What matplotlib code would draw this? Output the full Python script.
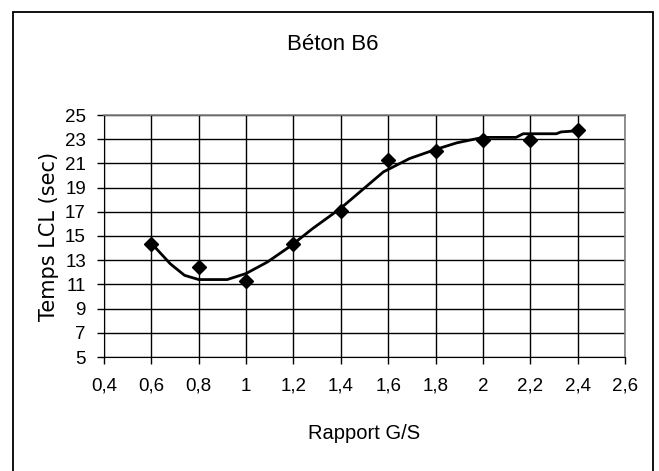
import matplotlib.pyplot as plt
from matplotlib.patches import Rectangle

plt.rcParams['font.family'] = ['Liberation Sans Narrow', 'Liberation Sans', 'DejaVu Sans']

# mesures (losanges)
g_s = [0.6, 0.8, 1.0, 1.2, 1.4, 1.6, 1.8, 2.0, 2.2, 2.4]
temps = [14.3, 12.4, 11.3, 14.3, 17.1, 21.3, 22.0, 22.9, 22.9, 23.8]

# courbe de tendance
curve_x = [0.6, 0.68, 0.74, 0.80, 0.92, 1.0, 1.09, 1.19, 1.28, 1.40, 1.49,
           1.58, 1.69, 1.80, 1.89, 2.0, 2.14, 2.17, 2.31, 2.33, 2.4]
curve_y = [14.4, 12.7, 11.75, 11.4, 11.4, 11.9, 12.85, 14.2, 15.6, 17.3, 18.8,
           20.3, 21.4, 22.15, 22.7, 23.15, 23.15, 23.45, 23.45, 23.6, 23.7]

xticks = [0.4, 0.6, 0.8, 1.0, 1.2, 1.4, 1.6, 1.8, 2.0, 2.2, 2.4, 2.6]
xlabels = ['0,4', '0,6', '0,8', '1', '1,2', '1,4', '1,6', '1,8', '2', '2,2', '2,4', '2,6']
yticks = list(range(5, 26, 2))

fig = plt.figure(figsize=(6.59, 4.71), dpi=100)
ax = fig.add_axes([104/659, 1 - 357/471, (625 - 104)/659, (357 - 115)/471])

ax.plot(curve_x, curve_y, color='black', lw=2.0, zorder=3)
ax.plot(g_s, temps, 'D', color='black', ms=7, zorder=4)

ax.set_xlim(0.4, 2.6)
ax.set_ylim(5, 25)
ax.set_xticks(xticks)
ax.set_xticklabels(xlabels)
ax.set_yticks(yticks)
ax.grid(True, color='black', lw=1.0)
ax.set_axisbelow(True)
ax.tick_params(direction='out', length=5, width=1, labelsize=13.5)
ax.tick_params(axis='x', pad=10)
ax.tick_params(axis='y', pad=8)

for s in ['left', 'bottom']:
    ax.spines[s].set_color('black')
for s in ['top', 'right']:
    ax.spines[s].set_color('#808080')
    ax.spines[s].set_linewidth(1.2)

ax.set_xlabel('Rapport G/S', fontsize=14.5, family=['Liberation Sans', 'DejaVu Sans'],
              labelpad=21)
ax.set_ylabel('Temps LCL (sec)', fontsize=15, family=['DejaVu Sans'], labelpad=4)
fig.text(333/659, 1 - 45/471, 'Béton B6', ha='center', va='center', fontsize=16)

# cadre du graphique
fig.patches.append(Rectangle((13/659, -0.02), (653 - 13)/659, 1 - 12/471 + 0.02,
                             transform=fig.transFigure, fill=False,
                             edgecolor='black', lw=1.3))

fig.savefig('out.png', dpi=100)
